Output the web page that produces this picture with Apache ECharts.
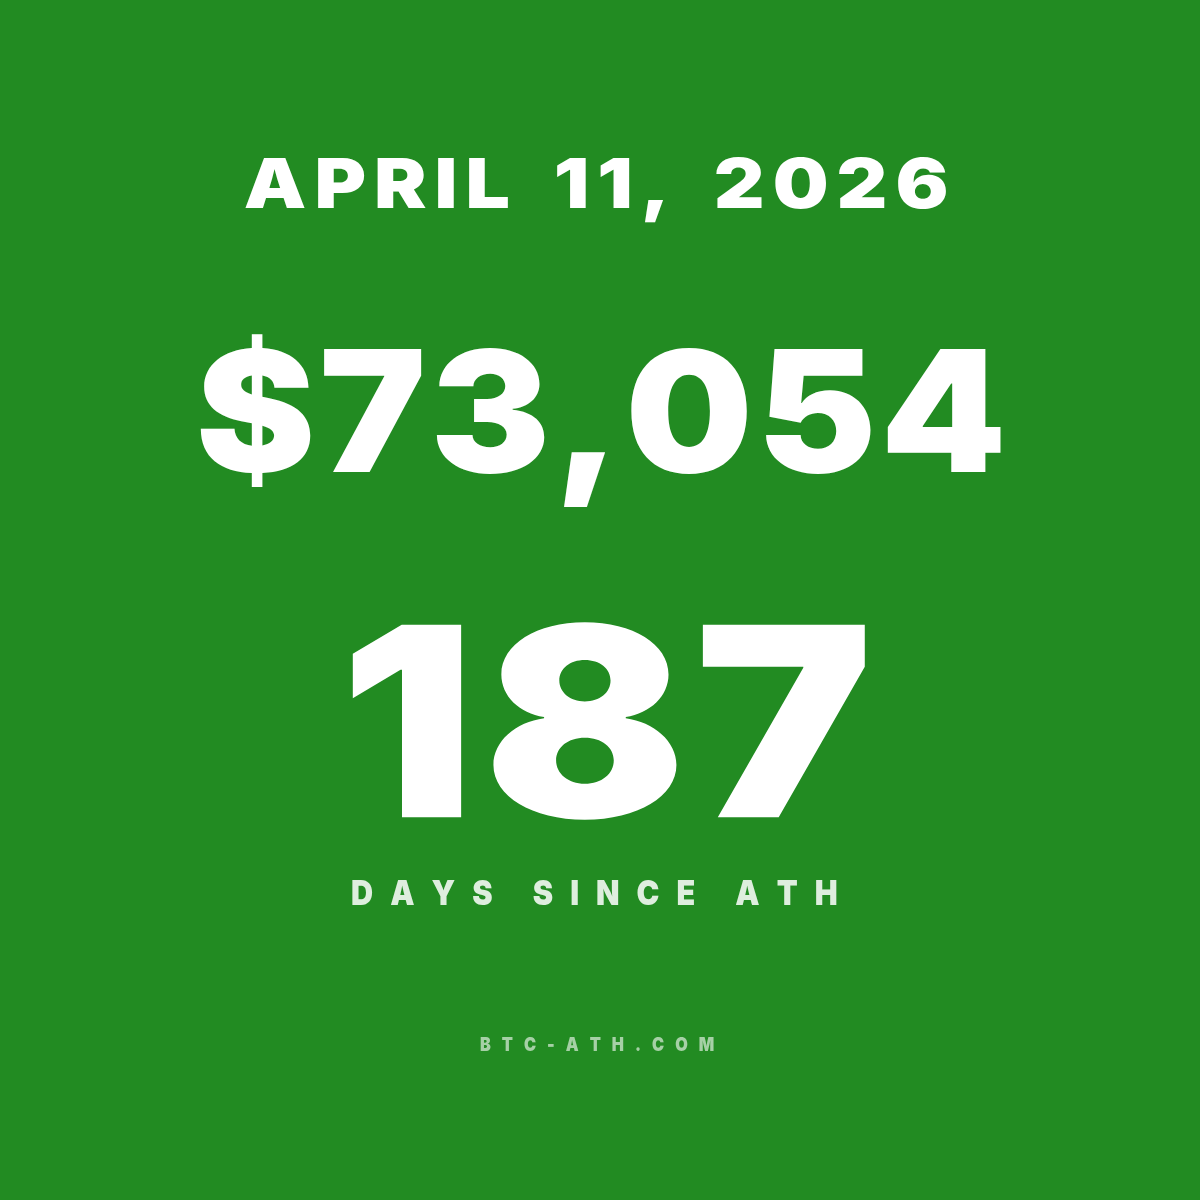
<!DOCTYPE html>
<html><head><meta charset="utf-8">
<script src="https://cdn.jsdelivr.net/npm/echarts@6/dist/echarts.min.js"></script>
<style>html,body{margin:0;padding:0;background:#228B22}#c{width:1200px;height:1200px}</style>
</head><body><div id="c"></div>
<script>
// Content
const dateLabel = 'APRIL 11, 2026';
const priceLabel = '$73,054';
const daysValue = '187';
const daysCaption = 'DAYS SINCE ATH';
const siteLabel = 'BTC-ATH.COM';

const FAMILY = 'Inter';
const WEIGHT = 900;
const BG = '#228B22';

// layout: reference char top/bottom, horizontal extent, spacing, extra width for spaces
const blocks = [
  {text: dateLabel,   ref: 'H', top: 158, bottom: 208, left: 245, right: 946, sp: 8,  spaceExtra: 12, color: '#ffffff'},
  {text: priceLabel,  ref: '7', top: 349, bottom: 472, left: 200, right: 1001, sp: 4, spaceExtra: 0, color: '#ffffff'},
  {text: daysValue,   ref: '1', top: 623, bottom: 816, left: 349, right: 868, sp: 8,  spaceExtra: 0, color: '#ffffff'},
  {text: daysCaption, ref: 'H', top: 880, bottom: 905, left: 352, right: 837, sp: 17, spaceExtra: 0, color: 'rgba(255,255,255,0.85)'},
  {text: siteLabel,   ref: 'H', top: 1037, bottom: 1051, left: 480, right: 714, sp: 11, spaceExtra: 0, color: 'rgba(255,255,255,0.6)'}
];

const cv = document.createElement('canvas');
const ctx = cv.getContext('2d');
function fontStr(sz){ return WEIGHT + ' ' + sz + 'px "' + FAMILY + '"'; }

const elements = [];
blocks.forEach(b => {
  ctx.font = fontStr(100);
  ctx.textBaseline = 'alphabetic';
  const m = ctx.measureText(b.ref);
  const capRatio = (m.actualBoundingBoxAscent + m.actualBoundingBoxDescent) / 100;
  const size = (b.bottom - b.top) / capRatio;
  ctx.font = fontStr(size);
  ctx.textBaseline = 'middle';
  const mm = ctx.measureText(b.ref);
  const y = b.top + mm.actualBoundingBoxAscent;
  const chars = b.text.split('');
  const widths = chars.map(c => ctx.measureText(c).width);
  const first = ctx.measureText(chars[0]);
  const last = ctx.measureText(chars[chars.length-1]);
  const lb = -first.actualBoundingBoxLeft;
  const rb = widths[widths.length-1] - last.actualBoundingBoxRight;
  const natural = widths.reduce((a,c)=>a+c,0) - lb - rb;
  const nSpaces = chars.filter(c => c === ' ').length;
  const sx = (b.right - b.left - b.sp*(chars.length-1) - b.spaceExtra*nSpaces) / natural;
  let x = b.left - lb*sx;
  chars.forEach((c,i) => {
    if (c !== ' ') {
      elements.push({
        type: 'text', x: x, y: y, scaleX: sx, silent: true,
        style: {text: c, font: fontStr(size), fill: b.color, align: 'left', verticalAlign: 'middle'}
      });
    }
    x += widths[i]*sx + b.sp + (c === ' ' ? b.spaceExtra : 0);
  });
});

const chart = echarts.init(document.getElementById('c'), null, {renderer: 'canvas'});
chart.setOption({
  backgroundColor: BG,
  animation: false,
  graphic: {elements: elements}
});
</script></body></html>
